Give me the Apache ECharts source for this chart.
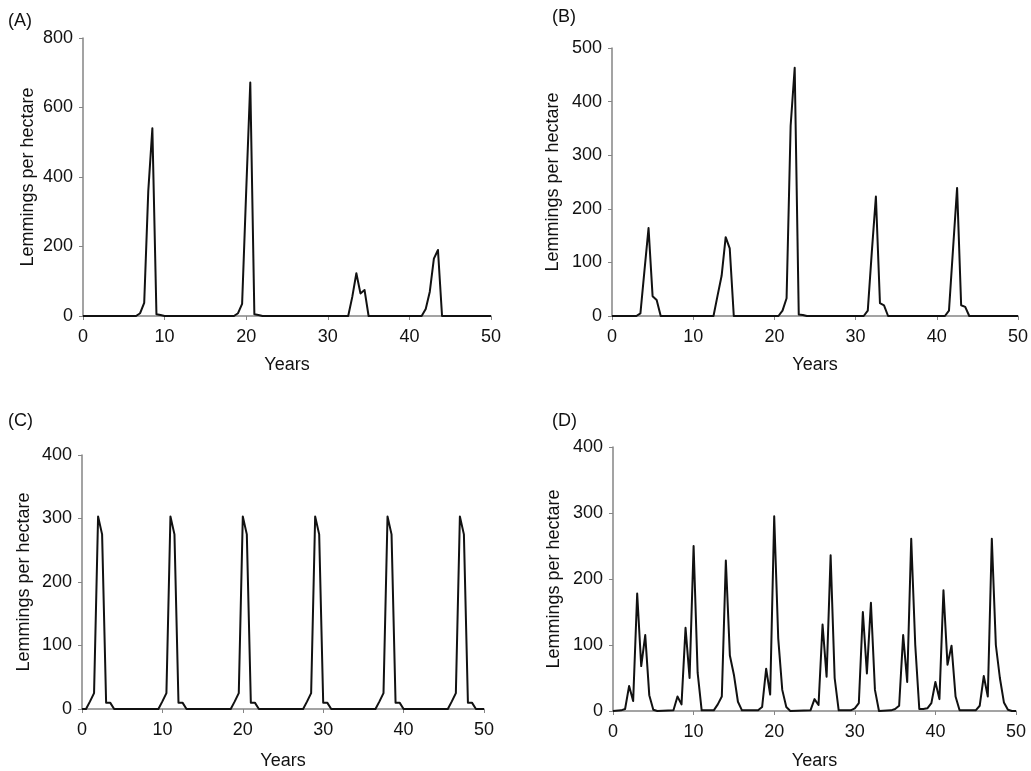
<!DOCTYPE html>
<html>
<head>
<meta charset="utf-8">
<script src="https://cdn.jsdelivr.net/npm/echarts@6/dist/echarts.min.js"></script>
<style>
html,body{margin:0;padding:0;background:#fff;}
#chart{width:1031px;height:771px;}
</style>
</head>
<body>
<div id="chart"></div>
<script>
// Panel labels and axis text
const panelLabels = ['(A)', '(B)', '(C)', '(D)'];
const xAxisName = 'Years';
const yAxisName = 'Lemmings per hectare';
const yMax = [800, 500, 400, 400];
const yInterval = [200, 100, 100, 100];

// Series values: [year, lemmings per hectare]
const seriesA = [[0,0],[6.5,0],[7,8],[7.5,38],[8,360],[8.5,540],[9,5],[9.5,3],[10,0],
  [18.5,0],[19,8],[19.5,35],[20,360],[20.5,672],[21,5],[21.5,3],[22,0],
  [32.5,0],[33,55],[33.5,123],[34,65],[34.5,75],[35,0],
  [41.5,0],[42,20],[42.5,70],[43,165],[43.5,190],[44,0],[50,0]];

const seriesB = [[0,0],[3,0],[3.5,5],[4,85],[4.5,164],[5,37],[5.5,30],[6,0],
  [12.5,0],[13,38],[13.5,75],[14,147],[14.5,126],[15,0],
  [20.5,0],[21,10],[21.5,33],[22,355],[22.5,463],[23,3],[23.5,2],[24,0],
  [31,0],[31.5,10],[32,120],[32.5,223],[33,24],[33.5,20],[34,0],
  [41,0],[41.5,10],[42,125],[42.5,239],[43,20],[43.5,17],[44,0],[50,0]];

const seriesC = [[0,0],[0.5,0],[1,12],[1.5,25],[2,303],[2.5,275],[3,10],[3.5,10],[4,0],
  [9.5,0],[10,12],[10.5,25],[11,303],[11.5,275],[12,10],[12.5,10],[13,0],
  [18.5,0],[19,12],[19.5,25],[20,303],[20.5,275],[21,10],[21.5,10],[22,0],
  [27.5,0],[28,12],[28.5,25],[29,303],[29.5,275],[30,10],[30.5,10],[31,0],
  [36.5,0],[37,12],[37.5,25],[38,303],[38.5,275],[39,10],[39.5,10],[40,0],
  [45.5,0],[46,12],[46.5,25],[47,303],[47.5,275],[48,10],[48.5,10],[49,0],[50,0]];

const seriesD = [[0,0],[1,1],[1.5,3],[2,38],[2.5,15],[3,178],[3.5,68],[4,115],[4.5,24],[5,2],[5.5,0],
  [7.5,1],[8,22],[8.5,10],[9,126],[9.5,50],[10,250],[10.5,58],[11,1],
  [12.5,1],[13,10],[13.5,22],[14,228],[14.5,84],[15,55],[15.5,14],[16,1],
  [18,1],[18.5,6],[19,64],[19.5,25],[20,295],[20.5,110],[21,32],[21.5,6],[22,0],
  [24.5,1],[25,18],[25.5,9],[26,131],[26.5,52],[27,236],[27.5,50],[28,1],
  [29.5,1],[30,4],[30.5,12],[31,150],[31.5,57],[32,164],[32.5,32],[33,0],
  [34.5,1],[35,3],[35.5,8],[36,115],[36.5,44],[37,261],[37.5,100],[38,3],[38.5,3],[39,4],[39.5,12],
  [40,44],[40.5,18],[41,183],[41.5,70],[42,99],[42.5,22],[43,1],
  [45,1],[45.5,8],[46,53],[46.5,22],[47,261],[47.5,100],[48,50],[48.5,13],[49,2],[49.5,0],[50,0]];

const allSeries = [seriesA, seriesB, seriesC, seriesD];

// Layout
const grids = [
  {left: 83, top: 38, width: 408, height: 278},
  {left: 612, top: 48, width: 409, height: 268},
  {left: 82, top: 455, width: 402, height: 256},
  {left: 613, top: 447, width: 403, height: 266}
];
const yNameGap = [46, 50, 49, 50];
const xNameGap = [40, 40, 43, 41];
const labelPos = [[8, 12], [552, 8], [8, 412], [552, 412]];

const FONT = "'Liberation Sans', Arial, sans-serif";
const axisGray = '#858585';

const option = {
  backgroundColor: '#ffffff',
  animation: false,
  textStyle: {fontFamily: FONT},
  grid: grids.map(g => Object.assign({containLabel: false}, g)),
  xAxis: grids.map((g, i) => ({
    type: 'value', gridIndex: i, min: 0, max: 50, interval: 10,
    name: xAxisName, nameLocation: 'middle', nameGap: xNameGap[i],
    nameTextStyle: {fontSize: 18, color: '#111', fontFamily: FONT},
    axisLine: {show: true, onZero: false, lineStyle: {color: axisGray, width: 1.5}},
    axisTick: {show: true, length: 4, lineStyle: {color: axisGray, width: 1}},
    axisLabel: {fontSize: 18, color: '#111', fontFamily: FONT, margin: 12},
    splitLine: {show: false}
  })),
  yAxis: grids.map((g, i) => ({
    type: 'value', gridIndex: i, min: 0, max: yMax[i], interval: yInterval[i],
    name: yAxisName, nameLocation: 'middle', nameGap: yNameGap[i], nameRotate: 90,
    nameTextStyle: {fontSize: 18, color: '#111', fontFamily: FONT},
    axisLine: {show: true, lineStyle: {color: axisGray, width: 1.5}},
    axisTick: {show: true, length: 4, lineStyle: {color: axisGray, width: 1}},
    axisLabel: {fontSize: 18, color: '#111', fontFamily: FONT, margin: 10},
    splitLine: {show: false}
  })),
  series: allSeries.map((d, i) => ({
    type: 'line', xAxisIndex: i, yAxisIndex: i, data: d,
    showSymbol: false, symbol: 'none',
    lineStyle: {color: '#111', width: 2, join: 'round'}
  })),
  graphic: panelLabels.map((t, i) => ({
    type: 'text', left: labelPos[i][0], top: labelPos[i][1],
    style: {text: t, fontSize: 18, fill: '#111', fontFamily: FONT}
  }))
};

const chart = echarts.init(document.getElementById('chart'), null, {renderer: 'canvas'});
chart.setOption(option);
</script>
</body>
</html>
